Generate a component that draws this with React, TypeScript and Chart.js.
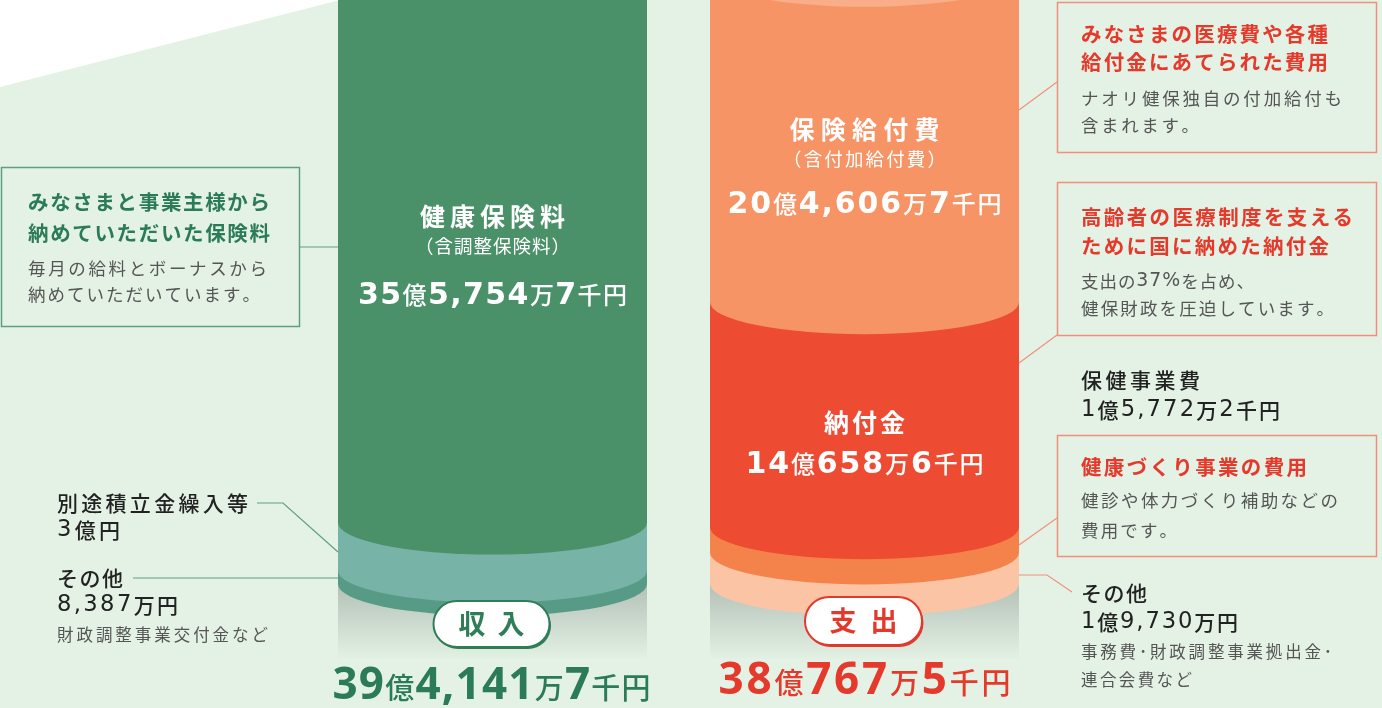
import { useEffect, useRef } from "react";
import { Chart, registerables } from "chart.js";

Chart.register(...registerables);

// ---- data (億円) ----
const categories = ["収入", "支出"];
const incomeLabels = ["その他", "別途積立金繰入等", "健康保険料"];
const incomeValues = [0.8387, 3.0, 35.5747];
const expenseLabels = ["その他", "保健事業費", "納付金", "保険給付費"];
const expenseValues = [1.973, 1.5772, 14.0658, 20.4606];
const incomeTotalText = ["39", "億", "4,141", "万", "7", "千円"];
const expenseTotalText = ["38", "億", "767", "万", "5", "千円"];
const premiumText = ["35", "億", "5,754", "万", "7", "千円"];
const benefitText = ["20", "億", "4,606", "万", "7", "千円"];
const levyText = ["14", "億", "658", "万", "6", "千円"];

// ---- style ----
const incomeColors = ["#579b86", "#77b3a7", "#4a9169"];
const expenseColors = ["#fbc4a5", "#f4834b", "#ee4b33", "#f79466"];
const capColors = ["#6aa783", "#f9ae88"];
const BG = "#e4f2e5";
const GREEN_TXT = "#2b7b58";
const GREEN_LINE = "#5e9f80";
const RED_TXT = "#e5392b";
const SALMON = "#f0907c";
const GRAY = "#555555";
const DARK = "#222222";
const FF = '"Noto Sans CJK JP", "Noto Sans", sans-serif';
const LATIN = '"Open Sans", "Noto Sans CJK JP", sans-serif';
const WIDE = '"DejaVu Sans", "Noto Sans CJK JP", sans-serif';
const RY = 32;

const cjk = (size: number, weight: number | string = 400) => `${weight} ${size}px ${FF}`;
const lat = (size: number, weight: number | string = 400) => `${weight} ${size}px ${LATIN}`;
const wide = (size: number, weight: number | string = 400) => `${weight} ${size}px ${WIDE}`;
const isLatin = (c: string) => /[0-9,.%]/.test(c);

function fit(ctx: any, text: string, x: number, y: number, width: number, size: number, weight: number, color: string, align: "left" | "center" = "left") {
  ctx.fillStyle = color;
  ctx.textBaseline = "middle";
  ctx.textAlign = "left";
  const chars = Array.from(text);
  const fonts = chars.map((c) => (isLatin(c) ? wide(size * 1.08, weight >= 700 ? 700 : 400) : cjk(size, weight)));
  const ws = chars.map((c, i) => {
    ctx.font = fonts[i];
    return ctx.measureText(c).width;
  });
  const nat = ws.reduce((a, b) => a + b, 0);
  const sp = chars.length > 1 ? (width - nat) / (chars.length - 1) : 0;
  let cx = align === "center" ? x - width / 2 : x;
  chars.forEach((c, i) => {
    ctx.font = fonts[i];
    ctx.fillText(c, cx, isLatin(c) ? y + size * 0.02 : y);
    cx += ws[i] + sp;
  });
}

function rich(ctx: any, parts: string[], cx: number, baseline: number, width: number, big: string, small: string, color: string) {
  ctx.fillStyle = color;
  ctx.textBaseline = "alphabetic";
  ctx.textAlign = "left";
  const items: { c: string; f: string; w: number }[] = [];
  parts.forEach((p, i) => {
    const f = i % 2 === 0 ? big : small;
    ctx.font = f;
    for (const c of Array.from(p)) items.push({ c, f, w: ctx.measureText(c).width });
  });
  const nat = items.reduce((a, b) => a + b.w, 0);
  const sp = (width - nat) / (items.length - 1);
  let x = cx - width / 2;
  for (const it of items) {
    ctx.font = it.f;
    ctx.fillText(it.c, x, baseline);
    x += it.w + sp;
  }
}

function line(ctx: any, pts: number[][], color: string) {
  ctx.save();
  ctx.strokeStyle = color;
  ctx.lineWidth = 1.2;
  ctx.beginPath();
  pts.forEach((p, i) => (i === 0 ? ctx.moveTo(p[0], p[1]) : ctx.lineTo(p[0], p[1])));
  ctx.stroke();
  ctx.restore();
}

function box(ctx: any, x1: number, y1: number, x2: number, y2: number, color: string) {
  ctx.save();
  ctx.strokeStyle = color;
  ctx.lineWidth = 1.5;
  ctx.strokeRect(x1, y1, x2 - x1, y2 - y1);
  ctx.restore();
}

function pill(ctx: any, cx: number, cy: number, w: number, h: number, color: string, text: string, tw: number) {
  const r = h / 2;
  const path = (ox: number, oy: number) => {
    ctx.beginPath();
    ctx.moveTo(cx - w / 2 + r + ox, cy - r + oy);
    ctx.lineTo(cx + w / 2 - r + ox, cy - r + oy);
    ctx.arc(cx + w / 2 - r + ox, cy + oy, r, -Math.PI / 2, Math.PI / 2);
    ctx.lineTo(cx - w / 2 + r + ox, cy + r + oy);
    ctx.arc(cx - w / 2 + r + ox, cy + oy, r, Math.PI / 2, (3 * Math.PI) / 2);
    ctx.closePath();
  };
  ctx.save();
  path(1.5, 2);
  ctx.fillStyle = color;
  ctx.fill();
  path(0, 0);
  ctx.fillStyle = "#ffffff";
  ctx.fill();
  ctx.lineWidth = 2;
  ctx.strokeStyle = color;
  ctx.stroke();
  ctx.restore();
  fit(ctx, text, cx, cy, tw, 27, 700, color, "center");
}

const infographic = {
  id: "infographic",
  beforeDraw(chart: any) {
    const ctx = chart.ctx;
    ctx.save();
    ctx.fillStyle = BG;
    ctx.fillRect(0, 0, chart.width, chart.height);
    ctx.fillStyle = "#ffffff";
    ctx.beginPath();
    ctx.moveTo(0, 0);
    ctx.lineTo(340, 0);
    ctx.lineTo(0, 87);
    ctx.closePath();
    ctx.fill();
    ctx.restore();
  },
  beforeDatasetsDraw(chart: any) {
    const ctx = chart.ctx;
    const n = chart.data.datasets.length;
    ctx.save();
    for (let c = 0; c < categories.length; c++) {
      const el: any = chart.getDatasetMeta(0).data[c];
      const g = ctx.createLinearGradient(0, el.base, 0, el.base + 76);
      g.addColorStop(0, "#b3c0b7");
      g.addColorStop(1, BG);
      ctx.fillStyle = g;
      ctx.fillRect(el.x - el.width / 2, el.base, el.width, 76);
    }
    for (let c = 0; c < categories.length; c++) {
      let top: any = null;
      for (let k = 0; k < n; k++) {
        const ds = chart.data.datasets[k];
        if (!ds.data[c]) continue;
        const el: any = chart.getDatasetMeta(k).data[c];
        ctx.fillStyle = ds.backgroundColor[c];
        ctx.fillRect(el.x - el.width / 2, el.y, el.width, el.base - el.y);
        ctx.beginPath();
        ctx.ellipse(el.x, el.base, el.width / 2, RY, 0, 0, Math.PI * 2);
        ctx.fill();
        top = el;
      }
      if (top) {
        ctx.fillStyle = capColors[c];
        ctx.beginPath();
        ctx.ellipse(top.x, top.y, top.width / 2, RY, 0, 0, Math.PI * 2);
        ctx.fill();
      }
    }
    ctx.restore();
    return false;
  },
  afterDraw(chart: any) {
    const ctx = chart.ctx;
    ctx.save();
    const W = "#ffffff";

    // ---- left annotations ----
    box(ctx, 1.5, 167.5, 299.5, 326.5, GREEN_LINE);
    line(ctx, [[300, 247], [338, 247]], GREEN_LINE);
    fit(ctx, "みなさまと事業主様から", 28, 202, 242, 20.5, 700, GREEN_TXT);
    fit(ctx, "納めていただいた保険料", 28, 233, 242, 20.5, 700, GREEN_TXT);
    fit(ctx, "毎月の給料とボーナスから", 28, 268, 239, 17.5, 400, GRAY);
    fit(ctx, "納めていただいています。", 28, 294, 232, 17.5, 400, GRAY);

    line(ctx, [[257, 503], [283, 503], [338, 552]], GREEN_LINE);
    fit(ctx, incomeLabels[1], 57, 503, 191, 21, 500, DARK);
    fit(ctx, "3億円", 57, 530, 63, 21, 500, DARK);
    line(ctx, [[133, 578], [338, 578]], GREEN_LINE);
    fit(ctx, incomeLabels[0], 57, 578, 66, 21, 500, DARK);
    fit(ctx, "8,387万円", 57, 605, 121, 21, 500, DARK);
    fit(ctx, "財政調整事業交付金など", 57, 635, 211, 16.5, 400, GRAY);

    // ---- right annotations ----
    box(ctx, 1057.5, 2.5, 1376.5, 152.5, SALMON);
    line(ctx, [[1019, 110], [1057, 82]], SALMON);
    fit(ctx, "みなさまの医療費や各種", 1081, 34, 247, 20.5, 700, RED_TXT);
    fit(ctx, "給付金にあてられた費用", 1081, 62, 247, 20.5, 700, RED_TXT);
    fit(ctx, "ナオリ健保独自の付加給付も", 1081, 98, 261, 17.5, 400, GRAY);
    fit(ctx, "含まれます。", 1081, 125, 118, 17.5, 400, GRAY);

    box(ctx, 1057.5, 182.5, 1376.5, 335.5, SALMON);
    line(ctx, [[1019, 363], [1057, 335]], SALMON);
    fit(ctx, "高齢者の医療制度を支える", 1081, 217, 272, 20.5, 700, RED_TXT);
    fit(ctx, "ために国に納めた納付金", 1081, 246, 248, 20.5, 700, RED_TXT);
    fit(ctx, "支出の37%を占め、", 1081, 281, 173, 17.5, 400, GRAY);
    fit(ctx, "健保財政を圧迫しています。", 1081, 308, 253, 17.5, 400, GRAY);

    fit(ctx, expenseLabels[1], 1081, 380, 119, 21, 500, DARK);
    fit(ctx, "1億5,772万2千円", 1081, 410, 199, 21, 500, DARK);

    box(ctx, 1057.5, 435.5, 1376.5, 556.5, SALMON);
    line(ctx, [[1019, 545], [1057, 518]], SALMON);
    fit(ctx, "健康づくり事業の費用", 1081, 467, 226, 20.5, 700, RED_TXT);
    fit(ctx, "健診や体力づくり補助などの", 1081, 500, 257, 17.5, 400, GRAY);
    fit(ctx, "費用です。", 1081, 530, 96, 17.5, 400, GRAY);

    line(ctx, [[1019, 575], [1047, 575], [1072, 592]], SALMON);
    fit(ctx, expenseLabels[0], 1081, 593, 66, 21, 500, DARK);
    fit(ctx, "1億9,730万円", 1081, 622, 157, 21, 500, DARK);
    fit(ctx, "事務費･財政調整事業拠出金･", 1081, 652, 251, 16.5, 400, GRAY);
    fit(ctx, "連合会費など", 1081, 680, 111, 16.5, 400, GRAY);

    // ---- labels inside cylinders ----
    const ix = (chart.getDatasetMeta(0).data[0] as any).x;
    const ex = (chart.getDatasetMeta(0).data[1] as any).x;
    fit(ctx, incomeLabels[2], ix, 216, 145, 25, 700, W, "center");
    fit(ctx, "（含調整保険料）", ix, 246, 155, 18.5, 400, W, "center");
    rich(ctx, premiumText, ix, 304, 269, wide(30, 700), cjk(24, 500), W);

    fit(ctx, expenseLabels[3], ex, 129, 150, 25, 700, W, "center");
    fit(ctx, "（含付加給付費）", ex, 159, 163, 18.5, 400, W, "center");
    rich(ctx, benefitText, ex, 213, 274, wide(30, 700), cjk(24, 500), W);

    fit(ctx, expenseLabels[2], ex, 422, 81, 25, 700, W, "center");
    rich(ctx, levyText, ex, 473, 238, wide(30, 700), cjk(24, 500), W);

    // ---- pills & totals ----
    pill(ctx, ix - 1, 624, 116, 46, "#2f7d59", categories[0], 66);
    pill(ctx, ex - 1, 621, 117, 48, "#e3392c", categories[1], 68);
    rich(ctx, incomeTotalText, ix - 1, 699, 318, lat(44, 700), cjk(29, 500), GREEN_TXT);
    rich(ctx, expenseTotalText, ex, 694, 292, lat(44, 700), cjk(29, 500), "#e5392b");

    ctx.restore();
  },
};

export default function App() {
  const ref = useRef<HTMLCanvasElement | null>(null);
  useEffect(() => {
    document.body.style.margin = "0";
    const levels = Math.max(incomeValues.length, expenseValues.length);
    const datasets = Array.from({ length: levels }, (_, k) => ({
      label: `${incomeLabels[k] ?? ""} / ${expenseLabels[k] ?? ""}`,
      data: [incomeValues[k] ?? 0, expenseValues[k] ?? 0],
      backgroundColor: [incomeColors[k] ?? "transparent", expenseColors[k] ?? "transparent"],
      barThickness: 309,
      stack: "s",
    }));
    const chart = new Chart(ref.current as HTMLCanvasElement, {
      type: "bar",
      data: { labels: categories, datasets },
      options: {
        responsive: false,
        animation: false,
        devicePixelRatio: 1,
        events: [],
        layout: { padding: { left: 306.5, right: 331.5, top: 0, bottom: 124 } },
        plugins: { legend: { display: false }, tooltip: { enabled: false } },
        scales: {
          x: { type: "category", stacked: true, display: false, offset: true },
          y: { stacked: true, display: false, min: 0, max: 584 / 16 },
        },
      },
      plugins: [infographic],
    } as any);
    return () => chart.destroy();
  }, []);
  return (
    <div style={{ position: "absolute", left: 0, top: 0, width: 1382, height: 708 }}>
      <canvas ref={ref} width={1382} height={708} style={{ display: "block" }} />
    </div>
  );
}
